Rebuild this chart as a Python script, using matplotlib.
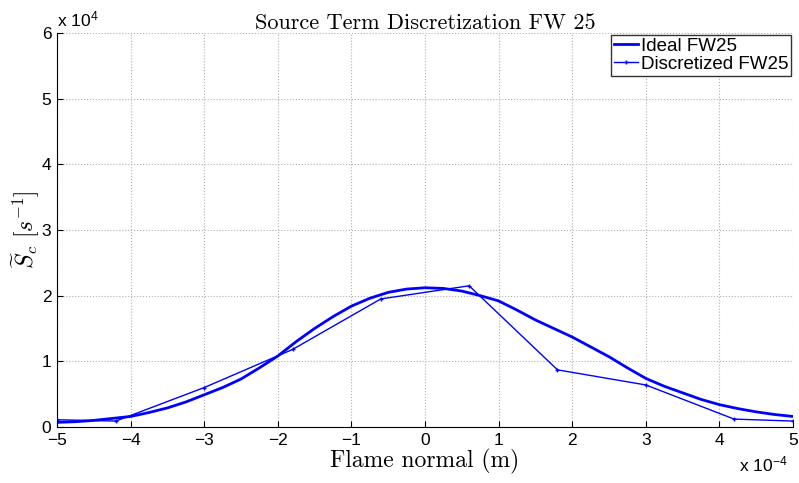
import matplotlib
matplotlib.use("Agg")
import matplotlib.pyplot as plt
import numpy as np

plt.rcParams["mathtext.fontset"] = "cm"
plt.rcParams["axes.unicode_minus"] = True

# ideal source term (x in 1e-4 m, S in 1e4 1/s)
x_ideal = [-5, -4.75, -4.5, -4.25, -4, -3.75, -3.5, -3.25, -3, -2.75, -2.5,
           -2.25, -2, -1.75, -1.5, -1.25, -1, -0.75, -0.5, -0.25, 0, 0.25,
           0.5, 0.75, 1, 1.25, 1.5, 1.75, 2, 2.25, 2.5, 2.75, 3, 3.25, 3.5,
           3.75, 4, 4.25, 4.5, 4.75, 5]
s_ideal = [0.07, 0.08, 0.10, 0.13, 0.16, 0.22, 0.29, 0.38, 0.49, 0.60, 0.73,
           0.90, 1.08, 1.30, 1.50, 1.68, 1.84, 1.96, 2.05, 2.10, 2.12, 2.11,
           2.07, 2.00, 1.92, 1.78, 1.63, 1.50, 1.37, 1.22, 1.07, 0.90, 0.74,
           0.62, 0.52, 0.42, 0.34, 0.28, 0.23, 0.19, 0.16]

# discretized source term
x_disc = [-5, -4.2, -3, -1.8, -0.6, 0.6, 1.8, 3, 4.2, 5]
s_disc = [0.11, 0.09, 0.60, 1.18, 1.95, 2.15, 0.87, 0.64, 0.12, 0.09]

xticks = [-5, -4, -3, -2, -1, 0, 1, 2, 3, 4, 5]
yticks = [0, 1, 2, 3, 4, 5, 6]

fig = plt.figure(figsize=(7.99, 4.83), dpi=100)
ax = fig.add_axes([0.0713, 0.116, 0.9212, 0.8157])

ax.plot(np.array(x_ideal) * 1e-4, np.array(s_ideal) * 1e4, color="#0000ff",
        lw=2, label="Ideal FW25")
ax.plot(np.array(x_disc) * 1e-4, np.array(s_disc) * 1e4, color="#0000ff",
        lw=1, marker="+", ms=3, mew=1, label="Discretized FW25")

ax.set_xlim(-5e-4, 5e-4)
ax.set_ylim(0, 6e4)
ax.set_xticks(np.array(xticks) * 1e-4)
ax.set_xticklabels([str(t).replace("-", "\u2212") for t in xticks])
ax.set_yticks(np.array(yticks) * 1e4)
ax.set_yticklabels([str(t) for t in yticks])
ax.tick_params(direction="in", length=4, labelsize=12.5, pad=4)
for lab in ax.get_xticklabels() + ax.get_yticklabels():
    lab.set_family("Liberation Sans")

ax.grid(True, color="#b0b0b0", ls=":", lw=0.8)
ax.spines["top"].set_visible(False)
ax.spines["right"].set_visible(False)

ax.set_title("Source Term Discretization FW 25", family="cmr10", fontsize=16,
             pad=3)
ax.set_xlabel("Flame normal (m)", family="cmr10", fontsize=17, labelpad=1)
ax.set_ylabel(r"$\widetilde{S}_c\ [s^{-1}]$", fontsize=17, labelpad=0)

# MATLAB style exponent labels
fig.text(0.071, 0.938, r"x 10$^{\mathregular{4}}$", family="Liberation Sans",
         fontsize=12.5, ha="left", va="bottom")
fig.text(0.925, 0.015, r"x 10$^{\mathregular{-4}}$", family="Liberation Sans",
         fontsize=12.5, ha="left", va="bottom")

leg = ax.legend(loc="upper right", prop={"family": "Liberation Sans", "size": 13.5},
                frameon=True, fancybox=False, edgecolor="black",
                handlelength=1.3, handletextpad=0.15, borderpad=0.15,
                labelspacing=0.05, borderaxespad=0.1)
leg.get_frame().set_linewidth(1)

fig.savefig("out.png", dpi=100)
